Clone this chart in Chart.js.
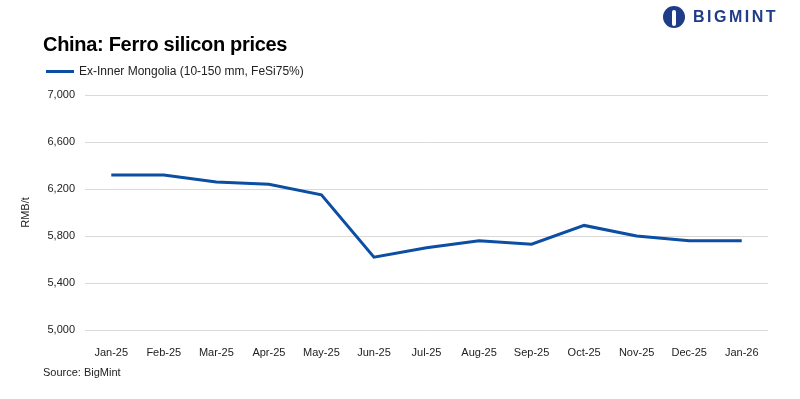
<!DOCTYPE html>
<html>
<head>
<meta charset="utf-8">
<script src="https://cdn.jsdelivr.net/npm/chart.js@4"></script>
<style>
  html, body { margin: 0; padding: 0; background: #fff; }
  body { width: 800px; height: 399px; position: relative; overflow: hidden; font-family: "Liberation Sans", Arial, sans-serif; }
  #wrap { position: absolute; left: 0; top: 0; width: 800px; height: 399px; }
  .title { position: absolute; left: 43px; top: 33px; font-size: 20px; font-weight: bold; color: #000; letter-spacing: -0.3px; }
  .legend { position: absolute; left: 46px; top: 64px; font-size: 12px; color: #222; display: flex; align-items: center; }
  .legend span.swatch { display: inline-block; width: 28px; height: 3px; background: #0b4ea2; margin-right: 5px; }
  .source { position: absolute; left: 43px; top: 366px; font-size: 11px; color: #222; }
  .logo { position: absolute; left: 663px; top: 6px; display: flex; align-items: center; }
  .logo .icon { width: 22px; height: 22px; border-radius: 50%; background: #1f3c88; position: relative; margin-right: 8px; }
  .logo .icon::after { content: ""; position: absolute; left: 9px; top: 4px; width: 4px; height: 16px; background: #fff; border-radius: 2px; }
  .logo .word { font-size: 16px; font-weight: bold; color: #1f3c88; letter-spacing: 2.5px; }
</style>
</head>
<body>
<div id="wrap"><canvas id="priceChart" width="800" height="399"></canvas></div>
<div class="title">China: Ferro silicon prices</div>
<div class="legend"><span class="swatch"></span>Ex-Inner Mongolia (10-150 mm, FeSi75%)</div>
<div class="source">Source: BigMint</div>
<div class="logo"><div class="icon"></div><div class="word">BIGMINT</div></div>
<script>
// Monthly prices, RMB/t
const months = ["Jan-25", "Feb-25", "Mar-25", "Apr-25", "May-25", "Jun-25", "Jul-25",
                "Aug-25", "Sep-25", "Oct-25", "Nov-25", "Dec-25", "Jan-26"];
const prices = [6320, 6320, 6260, 6240, 6150, 5620, 5700, 5760, 5730, 5890, 5800, 5760, 5760];
const seriesName = "Ex-Inner Mongolia (10-150 mm, FeSi75%)";

const ctx = document.getElementById('priceChart').getContext('2d');
const priceChart = new Chart(ctx, {
    type: 'line',
    data: {
        labels: months,
        datasets: [{
            label: seriesName,
            data: prices,
            borderColor: '#0b4ea2',
            borderWidth: 3,
            pointRadius: 0,
            tension: 0,
            fill: false
        }]
    },
    options: {
        responsive: false,
        animation: false,
        layout: { padding: { left: 15, top: 95, right: 32, bottom: 39 } },
        plugins: {
            legend: { display: false },
            tooltip: { enabled: false }
        },
        scales: {
            x: {
                offset: true,
                grid: { display: false },
                border: { display: false },
                ticks: { color: '#222', font: { size: 11, family: 'Liberation Sans' }, maxRotation: 0, padding: 8 },
                afterFit: function (scale) { scale.height = 30; }
            },
            y: {
                min: 5000,
                max: 7000,
                ticks: {
                    stepSize: 400,
                    color: '#222',
                    padding: 10,
                    font: { size: 11, family: 'Liberation Sans' },
                    callback: function (v) { return v.toLocaleString('en-US'); }
                },
                grid: { color: '#d9d9d9', drawTicks: false },
                border: { display: false },
                title: { display: true, text: 'RMB/t', color: '#222', font: { size: 11, family: 'Liberation Sans' } },
                afterFit: function (scale) { scale.width = 70; }
            }
        }
    }
});
</script>
</body>
</html>
